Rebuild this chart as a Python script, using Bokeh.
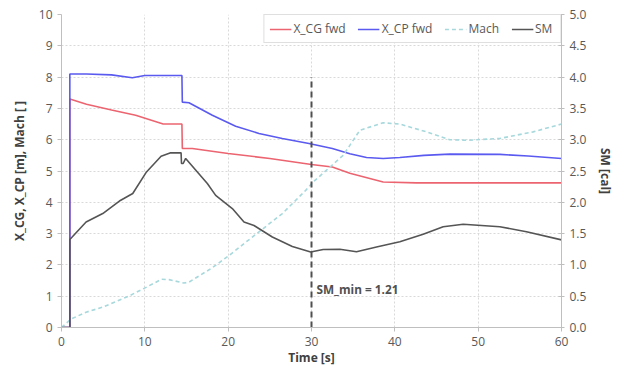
from bokeh.plotting import figure
from bokeh.models import (Range1d, LinearAxis, Label, Legend, LegendItem, FixedTicker,
                          ColumnDataSource, PrintfTickFormatter)
from bokeh.embed import file_html
from bokeh.resources import INLINE

# ---- data ----
t_cg = [0, 1, 1, 3, 6, 8.9, 12.2, 14.45, 14.5, 15.7, 20, 25, 30, 32.5, 34.6, 38.6, 42.6, 50, 60]
x_cg = [0, 0, 7.3, 7.13, 6.95, 6.78, 6.5, 6.5, 5.72, 5.72, 5.56, 5.4, 5.21, 5.13, 4.93, 4.65, 4.62, 4.62, 4.62]

t_cp = [0, 1, 1, 3, 6, 8.5, 10, 14.45, 14.5, 15.3, 18.1, 20.9, 23.7, 26.5, 29.7, 32.5, 34.6, 36.6, 38.6, 40.6, 43.5, 46.6, 52.6, 56, 60]
x_cp = [0, 0, 8.1, 8.1, 8.07, 7.98, 8.05, 8.05, 7.2, 7.18, 6.78, 6.43, 6.2, 6.04, 5.88, 5.72, 5.55, 5.43, 5.40, 5.43, 5.5, 5.54, 5.53, 5.48, 5.40]

t_mach = [0, 1.15, 2.95, 4.95, 8.2, 10.2, 12.0, 12.9, 14.7, 15.3, 18.1, 20.1, 22.9, 26.5, 29.3, 30.2, 33.8, 35.8, 38.6, 40.6, 43.8, 46.6, 48.6, 52.6, 56.6, 60]
mach = [0, 0.27, 0.49, 0.65, 1.02, 1.29, 1.54, 1.53, 1.42, 1.45, 1.91, 2.3, 2.89, 3.64, 4.38, 4.65, 5.5, 6.3, 6.54, 6.5, 6.25, 6.0, 5.98, 6.04, 6.25, 6.5]

t_sm = [0, 1, 1, 2.95, 4.95, 6.95, 8.55, 10.2, 11.95, 13.1, 14.35, 14.4, 14.6, 14.9, 17.5, 18.5, 20.5, 21.9, 23.1, 25.3, 27.7, 29.9, 31.4, 33.4, 35.4, 37.8, 40.6, 43.4, 45.8, 48.2, 52.6, 55.8, 60]
sm = [0, 0, 1.405, 1.685, 1.82, 2.02, 2.14, 2.485, 2.735, 2.79, 2.79, 2.62, 2.62, 2.70, 2.3, 2.11, 1.9, 1.685, 1.63, 1.445, 1.295, 1.205, 1.245, 1.25, 1.21, 1.285, 1.37, 1.49, 1.61, 1.65, 1.61, 1.53, 1.40]

SM_MIN_T = 30
SM_MIN = 1.21
SM_MARK_TOP = 8

x_ticks = [0, 10, 20, 30, 40, 50, 60]
y_ticks = [0, 1, 2, 3, 4, 5, 6, 7, 8, 9, 10]
y2_ticks = [0, 0.5, 1.0, 1.5, 2.0, 2.5, 3.0, 3.5, 4.0, 4.5, 5.0]

FONT = "Open Sans"
TICK_COLOR = "#595959"
AXIS_COLOR = "#bfbfbf"

p = figure(width=618, height=371, output_backend="svg", toolbar_location=None,
           x_range=Range1d(0, 60), y_range=Range1d(0, 10),
           min_border_left=61, min_border_right=57, min_border_top=14, min_border_bottom=44)
p.extra_y_ranges = {"sm": Range1d(0, 5)}
p.outline_line_color = None
p.background_fill_color = "white"

# grid
for g in (p.xgrid, p.ygrid):
    g.grid_line_color = "#d9d9d9"
    g.grid_line_dash = "2 2"
    g.grid_line_width = 1
p.xgrid.ticker = FixedTicker(ticks=x_ticks)
p.ygrid.ticker = FixedTicker(ticks=y_ticks)

# axes
p.xaxis.ticker = FixedTicker(ticks=x_ticks)
p.yaxis.ticker = FixedTicker(ticks=y_ticks)
p.xaxis.axis_label = "Time [s]"
p.yaxis.axis_label = "X_CG, X_CP [m], Mach [ ]"

right = LinearAxis(y_range_name="sm", axis_label="SM [cal]", ticker=FixedTicker(ticks=y2_ticks),
                   formatter=PrintfTickFormatter(format="%.1f"))
p.add_layout(right, "right")

for ax in (p.xaxis[0], p.yaxis[0], right):
    ax.axis_line_color = AXIS_COLOR
    ax.major_tick_line_color = AXIS_COLOR
    ax.minor_tick_line_color = None
    ax.major_label_text_font = FONT
    ax.major_label_text_font_size = "12px"
    ax.major_label_text_color = TICK_COLOR
    ax.axis_label_text_font = FONT
    ax.axis_label_text_font_size = "12px"
    ax.axis_label_text_font_style = "bold"
    ax.axis_label_text_color = "#404040"
    ax.major_tick_out = 4
    ax.major_tick_in = 0
right.major_tick_in = 3
right.major_tick_out = 3
p.xaxis.axis_label_standoff = 0
p.yaxis.axis_label_standoff = 8
right.axis_label_standoff = 8

# lines
r_cg = p.line(t_cg, x_cg, line_color="#ec6470", line_width=1.6)
r_cp = p.line(t_cp, x_cp, line_color="#5a5af0", line_width=1.6)
r_mach = p.line(t_mach, mach, line_color="#a6d8dc", line_width=1.6, line_dash="4 3")
r_sm = p.line(t_sm, sm, line_color="#555555", line_width=1.6, y_range_name="sm")

# SM min marker
seg_src = ColumnDataSource(dict(x0=[SM_MIN_T], y0=[0], x1=[SM_MIN_T], y1=[SM_MARK_TOP]))
p.segment(x0="x0", y0="y0", x1="x1", y1="y1", source=seg_src,
          line_color="#505050", line_width=2, line_dash="6 4")
p.add_layout(Label(x=SM_MIN_T, y=1.24, x_offset=5, text=f"SM_min = {SM_MIN:.2f}",
                   text_font=FONT, text_font_size="11.8px", text_font_style="bold",
                   text_color="#505050", text_baseline="middle"))

legend = Legend(items=[LegendItem(label="X_CG fwd", renderers=[r_cg]),
                       LegendItem(label="X_CP fwd", renderers=[r_cp]),
                       LegendItem(label="Mach", renderers=[r_mach]),
                       LegendItem(label="SM", renderers=[r_sm])],
                location="top_right", orientation="horizontal")
legend.margin = 0
legend.padding = 5
legend.spacing = 12
legend.glyph_width = 22
legend.glyph_height = 14
legend.label_standoff = 2
legend.label_text_font = FONT
legend.label_text_font_size = "12px"
legend.label_text_color = TICK_COLOR
legend.border_line_color = AXIS_COLOR
legend.background_fill_alpha = 1
p.add_layout(legend)

open("out.html", "w").write(file_html(p, INLINE))
